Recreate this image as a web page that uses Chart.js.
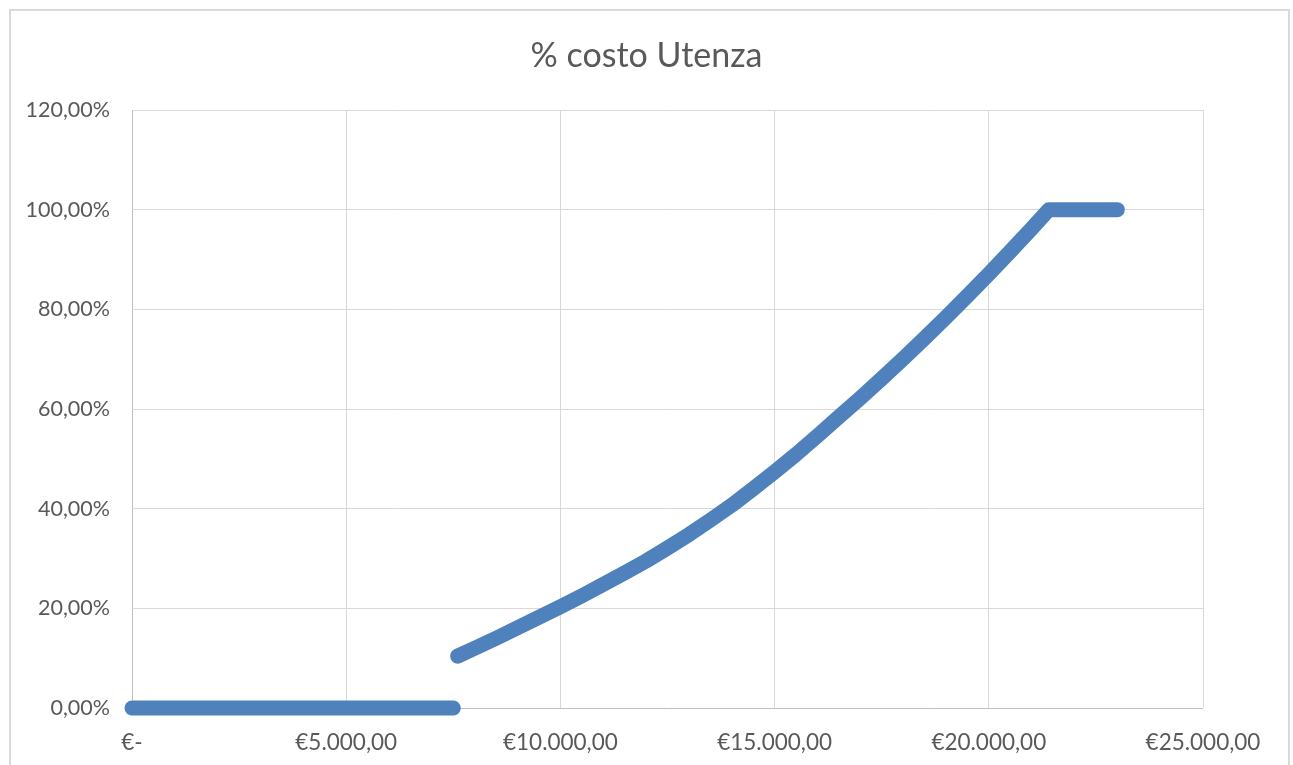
<!DOCTYPE html>
<html>
<head>
<meta charset="utf-8">
<script src="https://cdn.jsdelivr.net/npm/chart.js@4/dist/chart.umd.min.js"></script>
<style>
  html, body { margin: 0; padding: 0; background: #ffffff; }
  #frame { position: absolute; left: 9px; top: 9px; width: 1281px; height: 800px; border: 2px solid #d9d9d9; box-sizing: border-box; }
  #c { position: absolute; left: 0; top: 0; }
</style>
</head>
<body>
<div id="frame"></div>
<canvas id="c" width="1293" height="765"></canvas>
<script>
// Reddito (€) con quota zero
const zeroIncome = [0, 7500];
const zeroShare  = [0, 0];

// Reddito (€) e quota % del costo a carico dell'utenza (tratto crescente + tetto al 100%)
const riseIncome = [7600, 8000, 8500, 9000, 9500, 10000, 10500, 11000, 11500, 12000,
                    12500, 13000, 13500, 14000, 14500, 15000, 15500, 16000, 16500, 17000,
                    17500, 18000, 18500, 19000, 19500, 20000, 20500, 21000, 21400,
                    22000, 22500, 23000];
const riseShare  = [0.104, 0.120, 0.140, 0.161, 0.182, 0.203, 0.225, 0.248, 0.271, 0.295,
                    0.321, 0.348, 0.377, 0.407, 0.440, 0.474, 0.509, 0.546, 0.584, 0.622,
                    0.661, 0.701, 0.742, 0.784, 0.827, 0.871, 0.916, 0.962, 1.000,
                    1.000, 1.000, 1.000];

const xTickLabels = ['€-', '€5.000,00', '€10.000,00', '€15.000,00', '€20.000,00', '€25.000,00'];
const yTickLabels = ['0,00%', '20,00%', '40,00%', '60,00%', '80,00%', '100,00%', '120,00%'];

const chartTitle = '% costo Utenza';

const blue = '#4f81bd';
const toPts = (xs, ys) => xs.map((x, i) => ({ x: x, y: ys[i] }));

const lineStyle = {
  showLine: true,
  clip: false,
  borderColor: blue,
  backgroundColor: blue,
  borderWidth: 15,
  borderCapStyle: 'round',
  borderJoinStyle: 'round',
  pointRadius: 0,
  pointHoverRadius: 0,
  tension: 0
};

new Chart(document.getElementById('c'), {
  type: 'scatter',
  data: {
    datasets: [
      Object.assign({ label: 'zero', data: toPts(zeroIncome, zeroShare) }, lineStyle),
      Object.assign({ label: '% costo Utenza', data: toPts(riseIncome, riseShare) }, lineStyle)
    ]
  },
  options: {
    responsive: false,
    animation: false,
    layout: { padding: 0 },
    plugins: {
      legend: { display: false },
      tooltip: { enabled: false },
      title: {
        display: true,
        text: chartTitle,
        color: '#595959',
        font: { family: 'Lato', size: 34, weight: 'normal', lineHeight: 1.2 },
        padding: { top: 36, bottom: 33.2 }
      }
    },
    scales: {
      x: {
        type: 'linear',
        min: 0, max: 25000,
        afterFit: (s) => { s.height = 57; },
        ticks: {
          stepSize: 5000,
          color: '#595959',
          font: { family: 'Lato', size: 22.5 },
          padding: 21,
          maxRotation: 0,
          autoSkip: false,
          callback: (v) => xTickLabels[Math.round(v / 5000)]
        },
        grid: { color: (ctx) => ctx.index === 0 ? '#bfbfbf' : '#d9d9d9', lineWidth: 1, drawTicks: false },
        border: { display: false }
      },
      y: {
        type: 'linear',
        min: 0, max: 1.2,
        afterFit: (s) => { s.width = 132; },
        ticks: {
          stepSize: 0.2,
          color: '#595959',
          font: { family: 'Lato', size: 21.5 },
          padding: 22,
          autoSkip: false,
          callback: (v) => yTickLabels[Math.round(v / 0.2)]
        },
        grid: { color: (ctx) => ctx.index === 0 ? '#bfbfbf' : '#d9d9d9', lineWidth: 1, drawTicks: false },
        border: { display: false }
      },
      yRight: {
        type: 'linear',
        position: 'right',
        display: true,
        afterFit: (s) => { s.width = 90; },
        ticks: { display: false },
        grid: { display: false, drawTicks: false },
        border: { display: false }
      }
    }
  }
});
</script>
</body>
</html>
